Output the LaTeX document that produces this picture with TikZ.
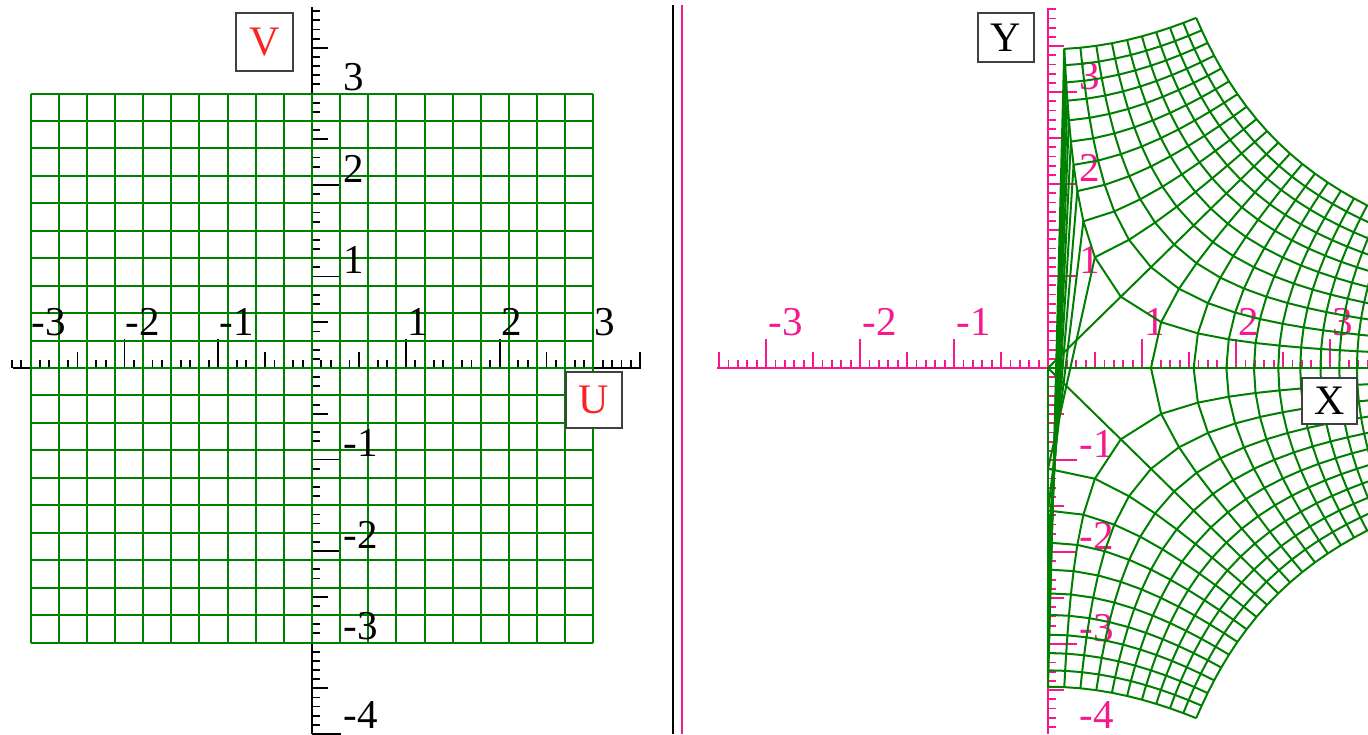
\documentclass[tikz,border=0pt]{standalone}
\usepackage{fontspec}
\setmainfont{Liberation Serif}
\definecolor{gridgreen}{RGB}{0,128,0}
\definecolor{axpink}{RGB}{245,25,140}
\definecolor{lblred}{RGB}{250,35,35}
\begin{document}
\begin{tikzpicture}[x=0.5pt,y=-0.5pt,
  axisblack/.style={black,line width=1pt},
  tickblack/.style={black,line width=0.9pt},
  axispink/.style={axpink,line width=1pt},
  tickpink/.style={axpink,line width=0.9pt},
  gridline/.style={gridgreen,line width=1pt,line join=round},
  ticklbl/.style={font=\fontsize{20.5}{24}\selectfont,inner sep=0pt,anchor=base west},
  letterbox/.style={draw=black!75,line width=1.3pt,fill=white,inner sep=0pt,
    text height=13.9pt,text depth=0pt,font=\fontsize{21}{24}\selectfont},
  declare function={wx(\xx,\yy)=sqrt(max(0,2*(veclen(\xx,\yy)+\xx)));
                    wy(\xx,\yy)=ifthenelse(\yy>0.0001,1,-1)*sqrt(max(0,2*(veclen(\xx,\yy)-\xx)));}]
\useasboundingbox (0,0) rectangle (1368,734);
\fill[white] (0,0) rectangle (1368,734);

% ---------- left panel: axes ----------
\draw[axisblack] (13,368) -- (641,368);
\draw[axisblack] (312,7) -- (312,734);
\foreach \k in {-32,...,35}{
  \pgfmathsetmacro\len{ifthenelse(mod(abs(\k),10)==0,29,ifthenelse(mod(abs(\k),5)==0,16,8))}
  \draw[tickblack] ({312+9.38*\k},368) -- ++(0,-\len);
}
\foreach \k in {-40,...,39}{
  \pgfmathsetmacro\len{ifthenelse(mod(abs(\k),10)==0,29,ifthenelse(mod(abs(\k),5)==0,16,8))}
  \draw[tickblack] (312,{368-9.15*\k}) -- ++(\len,0);
}

% ---------- left panel: grid ----------
\foreach \i in {-10,...,10}{
  \draw[gridline] ({312+28.14*\i},{368-274.5}) -- ({312+28.14*\i},{368+274.5});
  \draw[gridline] ({312-281.4},{368-27.45*\i}) -- ({312+281.4},{368-27.45*\i});
}

% ---------- left panel: labels ----------
\foreach \n [count=\c] in {-3,-2,-1,1,2,3}
  \node[ticklbl] (lu\c) at ({312+93.8*\n+1},335) {\n};
\foreach \n [count=\c] in {3,2,1,-1,-2,-3}
  \node[ticklbl] (lv\c) at (343,{368-91.5*\n-3}) {\n};
\node[ticklbl] (lv7) at (343,728) {-4};

% ---------- separators ----------
\draw[black,line width=1pt] (673,5) -- (673,734);
\draw[axpink,line width=1.2pt] (682,5) -- (682,734);

% ---------- right panel: axes ----------
\draw[axispink] (717,368) -- (1368,368);
\draw[axispink] (1048,8) -- (1048,734);
\foreach \k in {-35,...,34}{
  \pgfmathsetmacro\len{ifthenelse(mod(abs(\k),10)==0,29,ifthenelse(mod(abs(\k),5)==0,16,8))}
  \draw[tickpink] ({1048+9.4*\k},368) -- ++(0,-\len);
}
\foreach \k in {-39,...,39}{
  \pgfmathsetmacro\len{ifthenelse(mod(abs(\k),10)==0,29,ifthenelse(mod(abs(\k),5)==0,16,8))}
  \draw[tickpink] (1048,{368-9.2*\k}) -- ++(\len,0);
}
\foreach \n [count=\c] in {-3,-2,-1,1,2,3}
  \node[ticklbl,text=axpink] (rx\c) at ({1048+94*\n+2},335) {\n};
\foreach \n [count=\c] in {3,2,1,-1,-2,-3}
  \node[ticklbl,text=axpink] (ry\c) at (1079,{368-92*\n-3}) {\n};
\node[ticklbl,text=axpink] (ry7) at (1079,728) {-4};

% ---------- right panel: image grid w = 2 sqrt(z) ----------
\begin{scope}
\clip (684,0) rectangle (1368,734);
\begin{scope}[shift={(524pt,-184pt)},x=47pt,y=46pt]
\foreach \i in {-10,...,10}{
  \draw[gridline] plot[variable=\t,samples at={-10,...,10}] ({wx(0.3*\i,0.3*\t)},{wy(0.3*\i,0.3*\t)});
  \draw[gridline] plot[variable=\t,samples at={-10,...,10}] ({wx(0.3*\t,0.3*\i)},{wy(0.3*\t,0.3*\i)});
}
\end{scope}
\end{scope}

% ---------- axis name boxes ----------
\node[letterbox,text=lblred,minimum width=28.5pt,minimum height=29pt] (V) at (264.5,42) {V};
\node[letterbox,text=lblred,minimum width=28pt,minimum height=28pt] (U) at (594,400) {U};
\node[letterbox,text=black,minimum width=28pt,minimum height=24.5pt] (Y) at (1006,37.5) {Y};
\node[letterbox,text=black,minimum width=27.5pt,minimum height=23pt] (X) at (1329.5,401) {X};
\end{tikzpicture}
\end{document}
